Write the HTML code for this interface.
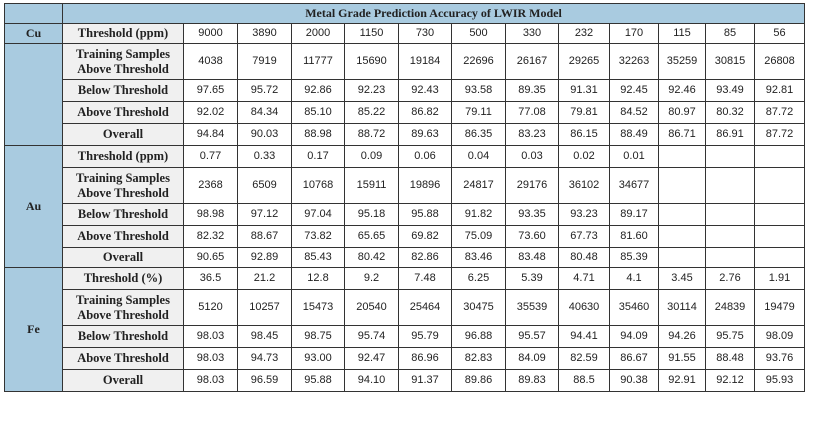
<!DOCTYPE html><html><head><style>
body{margin:0;background:#fff;width:818px;height:422px;overflow:hidden}
table{position:absolute;left:4px;top:3px;border-collapse:collapse;table-layout:fixed;font-family:"Liberation Sans",sans-serif;font-size:11px;color:#222}
td{border:1px solid #333;text-align:center;padding:0;line-height:13px}
.m{background:#a9cbe0;font-family:"Liberation Serif",serif;font-weight:bold;font-size:12px}
.l{background:#f0f0f0;font-family:"Liberation Serif",serif;font-weight:bold;font-size:12.5px;line-height:15px}
.h{background:#a9cbe0;font-family:"Liberation Serif",serif;font-weight:bold;font-size:12px}
tr.s td{height:21px} tr.t td{height:35px} tr.u td{height:19px}
</style></head><body>
<table>
<colgroup><col style="width:58px"><col style="width:121px"><col style="width:54px"><col style="width:54px"><col style="width:53px"><col style="width:54px"><col style="width:53px"><col style="width:54px"><col style="width:53px"><col style="width:51px"><col style="width:49px"><col style="width:47px"><col style="width:49px"><col style="width:50px"></colgroup>
<tr class="u"><td class="m"></td><td class="h" colspan="13">Metal Grade Prediction Accuracy of LWIR Model</td></tr>
<tr class="u"><td class="m">Cu</td><td class="l">Threshold (ppm)</td><td>9000</td><td>3890</td><td>2000</td><td>1150</td><td>730</td><td>500</td><td>330</td><td>232</td><td>170</td><td>115</td><td>85</td><td>56</td></tr>
<tr class="t"><td class="m" rowspan="4"></td><td class="l">Training Samples<br>Above Threshold</td><td>4038</td><td>7919</td><td>11777</td><td>15690</td><td>19184</td><td>22696</td><td>26167</td><td>29265</td><td>32263</td><td>35259</td><td>30815</td><td>26808</td></tr>
<tr class="s"><td class="l">Below Threshold</td><td>97.65</td><td>95.72</td><td>92.86</td><td>92.23</td><td>92.43</td><td>93.58</td><td>89.35</td><td>91.31</td><td>92.45</td><td>92.46</td><td>93.49</td><td>92.81</td></tr>
<tr class="s"><td class="l">Above Threshold</td><td>92.02</td><td>84.34</td><td>85.10</td><td>85.22</td><td>86.82</td><td>79.11</td><td>77.08</td><td>79.81</td><td>84.52</td><td>80.97</td><td>80.32</td><td>87.72</td></tr>
<tr class="s"><td class="l">Overall</td><td>94.84</td><td>90.03</td><td>88.98</td><td>88.72</td><td>89.63</td><td>86.35</td><td>83.23</td><td>86.15</td><td>88.49</td><td>86.71</td><td>86.91</td><td>87.72</td></tr>
<tr class="s"><td class="m" rowspan="5">Au</td><td class="l">Threshold (ppm)</td><td>0.77</td><td>0.33</td><td>0.17</td><td>0.09</td><td>0.06</td><td>0.04</td><td>0.03</td><td>0.02</td><td>0.01</td><td></td><td></td><td></td></tr>
<tr class="t"><td class="l">Training Samples<br>Above Threshold</td><td>2368</td><td>6509</td><td>10768</td><td>15911</td><td>19896</td><td>24817</td><td>29176</td><td>36102</td><td>34677</td><td></td><td></td><td></td></tr>
<tr class="s"><td class="l">Below Threshold</td><td>98.98</td><td>97.12</td><td>97.04</td><td>95.18</td><td>95.88</td><td>91.82</td><td>93.35</td><td>93.23</td><td>89.17</td><td></td><td></td><td></td></tr>
<tr class="s"><td class="l">Above Threshold</td><td>82.32</td><td>88.67</td><td>73.82</td><td>65.65</td><td>69.82</td><td>75.09</td><td>73.60</td><td>67.73</td><td>81.60</td><td></td><td></td><td></td></tr>
<tr class="u"><td class="l">Overall</td><td>90.65</td><td>92.89</td><td>85.43</td><td>80.42</td><td>82.86</td><td>83.46</td><td>83.48</td><td>80.48</td><td>85.39</td><td></td><td></td><td></td></tr>
<tr class="s"><td class="m" rowspan="5">Fe</td><td class="l">Threshold (%)</td><td>36.5</td><td>21.2</td><td>12.8</td><td>9.2</td><td>7.48</td><td>6.25</td><td>5.39</td><td>4.71</td><td>4.1</td><td>3.45</td><td>2.76</td><td>1.91</td></tr>
<tr class="t"><td class="l">Training Samples<br>Above Threshold</td><td>5120</td><td>10257</td><td>15473</td><td>20540</td><td>25464</td><td>30475</td><td>35539</td><td>40630</td><td>35460</td><td>30114</td><td>24839</td><td>19479</td></tr>
<tr class="s"><td class="l">Below Threshold</td><td>98.03</td><td>98.45</td><td>98.75</td><td>95.74</td><td>95.79</td><td>96.88</td><td>95.57</td><td>94.41</td><td>94.09</td><td>94.26</td><td>95.75</td><td>98.09</td></tr>
<tr class="s"><td class="l">Above Threshold</td><td>98.03</td><td>94.73</td><td>93.00</td><td>92.47</td><td>86.96</td><td>82.83</td><td>84.09</td><td>82.59</td><td>86.67</td><td>91.55</td><td>88.48</td><td>93.76</td></tr>
<tr class="s"><td class="l">Overall</td><td>98.03</td><td>96.59</td><td>95.88</td><td>94.10</td><td>91.37</td><td>89.86</td><td>89.83</td><td>88.5</td><td>90.38</td><td>92.91</td><td>92.12</td><td>95.93</td></tr>
</table>
</body></html>
